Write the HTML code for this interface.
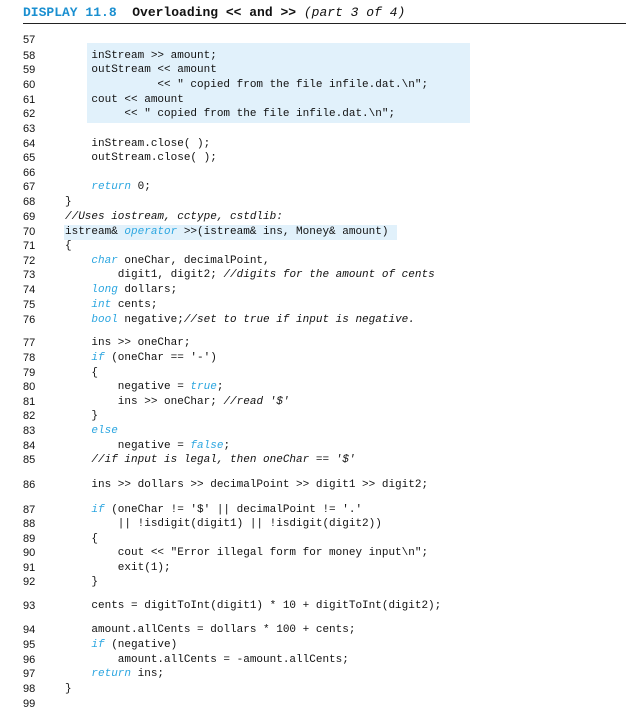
<!DOCTYPE html>
<html><head><meta charset="utf-8"><style>
body{margin:0;width:626px;height:716px;background:#fff;position:relative;overflow:hidden;font-family:"Liberation Mono",monospace;font-size:11px;color:#111}
.t{position:absolute;left:23px;top:5px;font:bold 13px "Liberation Mono",monospace;white-space:pre}
.t .b{color:#1a8fd0}
.t i{font-weight:normal}
.rule{position:absolute;left:23px;right:0;top:23px;height:1px;background:#222}
.hl{position:absolute;background:#e1f1fb}
.n{position:absolute;left:23px;font:11px "Liberation Sans",sans-serif;line-height:14px}
.c{position:absolute;left:65px;white-space:pre;line-height:14px}
.k{color:#2ca6e0;font-style:italic}
.m{font-style:italic}
</style></head><body>
<div class="t"><span class="b">DISPLAY 11.8</span>  Overloading &lt;&lt; and &gt;&gt; <i>(part 3 of 4)</i></div>
<div class="rule"></div>
<div class="hl" style="left:87px;top:43px;width:383px;height:80px"></div>
<div class="hl" style="left:64px;top:225px;width:333px;height:15px"></div>
<div class="n" style="top:33px">57</div>
<div class="n" style="top:49px">58</div><div class="c" style="top:49px">    inStream &gt;&gt; amount;</div>
<div class="n" style="top:63px">59</div><div class="c" style="top:63px">    outStream &lt;&lt; amount</div>
<div class="n" style="top:78px">60</div><div class="c" style="top:78px">              &lt;&lt; " copied from the file infile.dat.\n";</div>
<div class="n" style="top:93px">61</div><div class="c" style="top:93px">    cout &lt;&lt; amount</div>
<div class="n" style="top:107px">62</div><div class="c" style="top:107px">         &lt;&lt; " copied from the file infile.dat.\n";</div>
<div class="n" style="top:122px">63</div>
<div class="n" style="top:137px">64</div><div class="c" style="top:137px">    inStream.close( );</div>
<div class="n" style="top:151px">65</div><div class="c" style="top:151px">    outStream.close( );</div>
<div class="n" style="top:166px">66</div>
<div class="n" style="top:180px">67</div><div class="c" style="top:180px">    <span class="k">return</span> 0;</div>
<div class="n" style="top:195px">68</div><div class="c" style="top:195px">}</div>
<div class="n" style="top:210px">69</div><div class="c m" style="top:210px">//Uses iostream, cctype, cstdlib:</div>
<div class="n" style="top:225px">70</div><div class="c" style="top:225px">istream&amp; <span class="k">operator</span> &gt;&gt;(istream&amp; ins, Money&amp; amount)</div>
<div class="n" style="top:239px">71</div><div class="c" style="top:239px">{</div>
<div class="n" style="top:254px">72</div><div class="c" style="top:254px">    <span class="k">char</span> oneChar, decimalPoint,</div>
<div class="n" style="top:268px">73</div><div class="c" style="top:268px">        digit1, digit2; <span class="m">//digits for the amount of cents</span></div>
<div class="n" style="top:283px">74</div><div class="c" style="top:283px">    <span class="k">long</span> dollars;</div>
<div class="n" style="top:298px">75</div><div class="c" style="top:298px">    <span class="k">int</span> cents;</div>
<div class="n" style="top:313px">76</div><div class="c" style="top:313px">    <span class="k">bool</span> negative;<span class="m">//set to true if input is negative.</span></div>
<div class="n" style="top:336px">77</div><div class="c" style="top:336px">    ins &gt;&gt; oneChar;</div>
<div class="n" style="top:351px">78</div><div class="c" style="top:351px">    <span class="k">if</span> (oneChar == '-')</div>
<div class="n" style="top:366px">79</div><div class="c" style="top:366px">    {</div>
<div class="n" style="top:380px">80</div><div class="c" style="top:380px">        negative = <span class="k">true</span>;</div>
<div class="n" style="top:395px">81</div><div class="c" style="top:395px">        ins &gt;&gt; oneChar; <span class="m">//read '$'</span></div>
<div class="n" style="top:409px">82</div><div class="c" style="top:409px">    }</div>
<div class="n" style="top:424px">83</div><div class="c" style="top:424px">    <span class="k">else</span></div>
<div class="n" style="top:439px">84</div><div class="c" style="top:439px">        negative = <span class="k">false</span>;</div>
<div class="n" style="top:453px">85</div><div class="c m" style="top:453px">    //if input is legal, then oneChar == '$'</div>
<div class="n" style="top:478px">86</div><div class="c" style="top:478px">    ins &gt;&gt; dollars &gt;&gt; decimalPoint &gt;&gt; digit1 &gt;&gt; digit2;</div>
<div class="n" style="top:503px">87</div><div class="c" style="top:503px">    <span class="k">if</span> (oneChar != '$' || decimalPoint != '.'</div>
<div class="n" style="top:517px">88</div><div class="c" style="top:517px">        || !isdigit(digit1) || !isdigit(digit2))</div>
<div class="n" style="top:532px">89</div><div class="c" style="top:532px">    {</div>
<div class="n" style="top:546px">90</div><div class="c" style="top:546px">        cout &lt;&lt; "Error illegal form for money input\n";</div>
<div class="n" style="top:561px">91</div><div class="c" style="top:561px">        exit(1);</div>
<div class="n" style="top:575px">92</div><div class="c" style="top:575px">    }</div>
<div class="n" style="top:599px">93</div><div class="c" style="top:599px">    cents = digitToInt(digit1) * 10 + digitToInt(digit2);</div>
<div class="n" style="top:623px">94</div><div class="c" style="top:623px">    amount.allCents = dollars * 100 + cents;</div>
<div class="n" style="top:638px">95</div><div class="c" style="top:638px">    <span class="k">if</span> (negative)</div>
<div class="n" style="top:653px">96</div><div class="c" style="top:653px">        amount.allCents = -amount.allCents;</div>
<div class="n" style="top:667px">97</div><div class="c" style="top:667px">    <span class="k">return</span> ins;</div>
<div class="n" style="top:682px">98</div><div class="c" style="top:682px">}</div>
<div class="n" style="top:697px">99</div>
</body></html>
